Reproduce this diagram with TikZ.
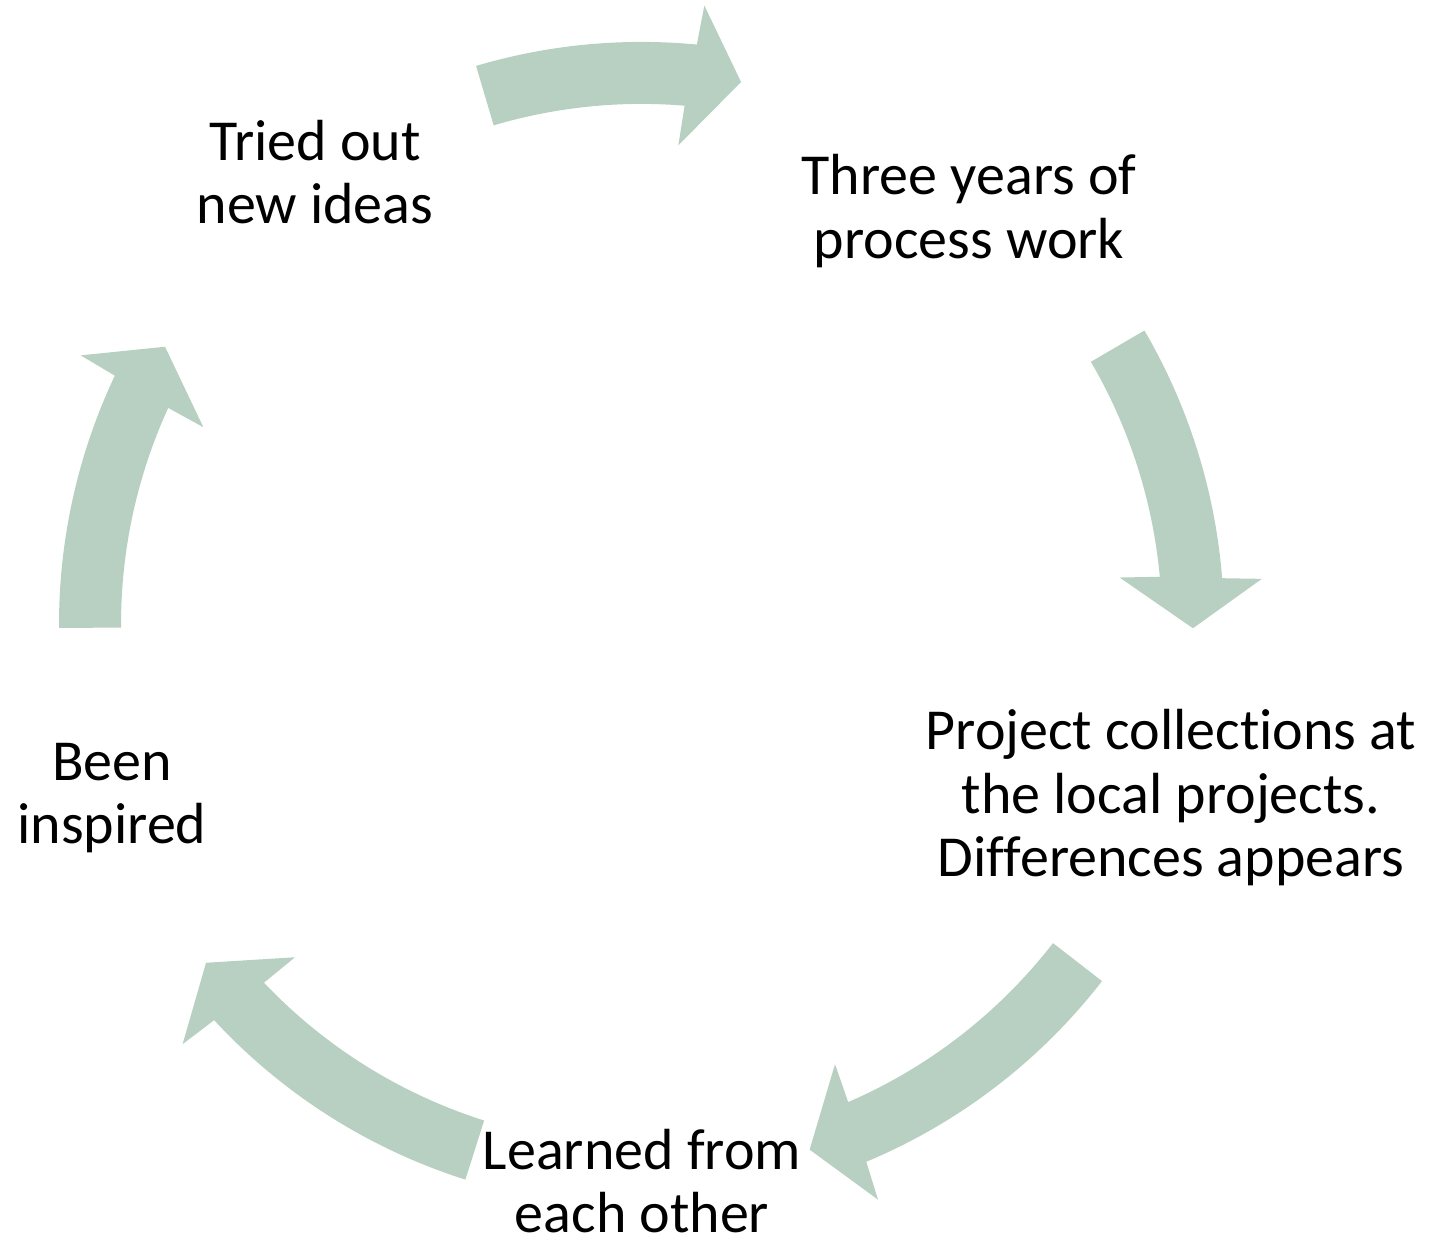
\documentclass[tikz,border=0pt]{standalone}
\usepackage{fontspec}
\setmainfont[Ligatures=CommonOff]{Carlito}
\usepackage{xcolor}

\definecolor{arrowgreen}{RGB}{183,208,193}

\begin{document}
\begin{tikzpicture}[x=0.5pt, y=0.5pt,
		steptext/.style = {align=center, font=\fontsize{29}{31.75}\selectfont},
		cyclearrow/.style = {fill=arrowgreen, draw=none}]
		\useasboundingbox (0,0) rectangle (1430,-1235);
		
		%centre of the cycle
		\coordinate (c) at (641.5,-624.4);
		
		%variables
		\def\ro{582.5};
		\def\ri{520.5};
		
		%steps
		\node [steptext] (tried) at (315,-172) {Tried out\\new ideas};
		\node [steptext] (three) at (969,-211) {Three years of\\process work};
		\node [steptext] (project) at (1171,-798) {Project collections at\\the local projects.\\Differences appears};
		\node [steptext] (learned) at (642,-1181) {Learned from\\each other};
		\node [steptext] (inspired) at (112,-798) {Been\\inspired};
		
		%arrows (tail angle / head angle)
		\begin{scope}[shift={(c)}]
			\foreach \t/\b in {106.5/84.9, 30.3/4.9, -37.76/-66.95, -107.6/-136.85, 180.35/155.07}
				\fill [cyclearrow] (\t:\ro) arc [start angle=\t, end angle={\b-0.35}, radius=\ro]
					-- ({\b-0.7}:622) -- ({\b-5.3}:551.5) -- ({\b+0.7}:480.5)
					-- ({\b+0.35}:\ri) arc [start angle={\b+0.35}, end angle=\t, radius=\ri] -- cycle;
		\end{scope}

	\end{tikzpicture}
\end{document}
